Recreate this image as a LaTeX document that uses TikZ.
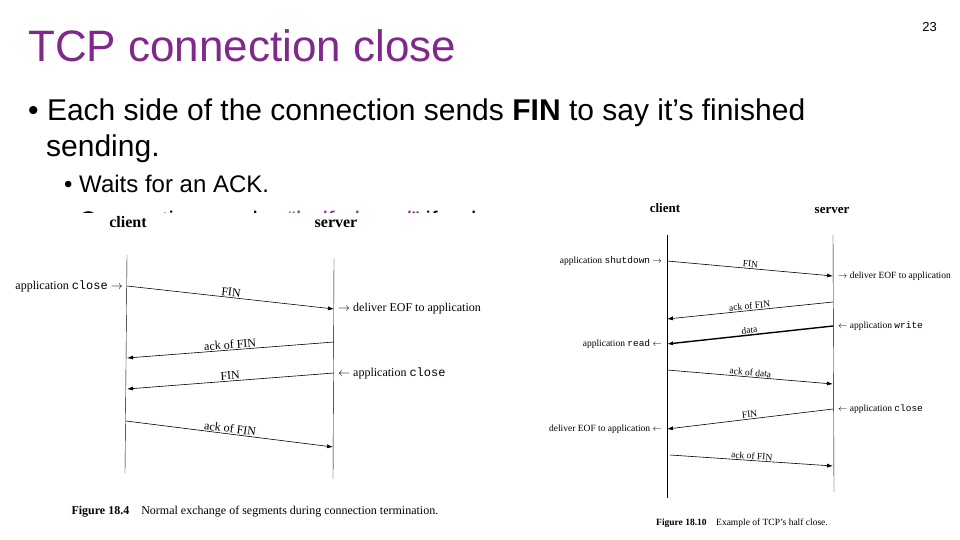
\documentclass[tikz,border=0pt]{standalone}
\usepackage{fontspec}
\setmainfont{Liberation Sans}
\newfontfamily\figfont{Liberation Serif}
\newfontfamily\figmono{Liberation Mono}
\usetikzlibrary{arrows.meta,positioning}
\definecolor{slidepurple}{RGB}{128,40,140}

\begin{document}
\begin{tikzpicture}[
    x=1pt, y=-1pt,
    msg/.style={-{Latex[length=6pt,width=4pt]}, semithick},
    bigmsg/.style={-{Latex[length=6pt,width=4pt]}, line width=1.4pt},
    life/.style={thin},
    lbl/.style={font=\figfont\fontsize{12}{13}\selectfont, inner sep=1pt},
    side/.style={font=\figfont\fontsize{12}{13}\selectfont, inner sep=1pt},
    head/.style={font=\figfont\bfseries\fontsize{16}{17}\selectfont},
    figcap/.style={font=\figfont\fontsize{12}{13}\selectfont},
    rlbl/.style={font=\figfont\fontsize{9.5}{10}\selectfont, inner sep=1pt},
    rhead/.style={font=\figfont\bfseries\fontsize{13}{14}\selectfont},
    rcapst/.style={font=\figfont\fontsize{9.5}{10}\selectfont}
]
    \useasboundingbox (0,0) rectangle (960,540);

    % Slide text
    \node[anchor=base west, font=\fontsize{44}{48}\selectfont, text=slidepurple, inner sep=0] (title) at (28,62) {TCP connection close};
    \node[anchor=base east, font=\fontsize{13}{15}\selectfont, inner sep=0] (page) at (937,32) {23};
    \node[anchor=base west, font=\fontsize{30}{34}\selectfont, inner sep=0] (b1) at (28,121) {\textbullet\ Each side of the connection sends \textbf{FIN} to say it’s finished};
    \node[anchor=base west, font=\fontsize{30}{34}\selectfont, inner sep=0] (b1b) at (46,157) {sending.};
    \node[anchor=base west, font=\fontsize{24}{28}\selectfont, inner sep=0] (b2) at (64,192) {\textbullet\ Waits for an ACK.};
    \node[anchor=base west, font=\fontsize{24}{28}\selectfont, inner sep=0] (b3) at (64,228) {\textbullet\ Connection can be \textcolor{slidepurple}{\textit{“half-closed”}} if only};

    % Figure backgrounds
    \fill[white] (0,213) rectangle (489,540);
    \fill[white] (545,199) rectangle (960,540);

    % Left figure: normal close
    \node[head] (lc) at (128,222) {client};
    \node[head] (ls) at (336,224) {server};
    \coordinate (lc0) at (127,255); \coordinate (lc1) at (125,473);
    \coordinate (ls0) at (334,258); \coordinate (ls1) at (333,479);
    \draw[life] (lc0) -- (lc1);
    \draw[life] (ls0) -- (ls1);

    \coordinate (la1) at (127,286); \coordinate (lb1) at (334,309);
    \coordinate (la2) at (334,342); \coordinate (lb2) at (127,358);
    \coordinate (la3) at (334,373); \coordinate (lb3) at (127,389);
    \coordinate (la4) at (126,421); \coordinate (lb4) at (333,447);
    \draw[msg] (la1) -- node[lbl, above, sloped] {FIN} (lb1);
    \draw[msg] (la2) -- node[lbl, above, sloped] {ack of FIN} (lb2);
    \draw[msg] (la3) -- node[lbl, above, sloped] {FIN} (lb3);
    \draw[msg] (la4) -- node[lbl, above, sloped] {ack of FIN} (lb4);

    \node[side, left=3pt of la1] (lcl) {application {\figmono close} $\rightarrow$};
    \node[side, right=3pt of lb1] (leof) {$\rightarrow$ deliver EOF to application};
    \node[side, right=3pt of la3] (lscl) {$\leftarrow$ application {\figmono close}};
    \node[figcap, anchor=west] (lcap) at (68,512) {\textbf{Figure 18.4}\quad Normal exchange of segments during connection termination.};

    % Right figure: half close
    \node[rhead] (rc) at (665,208) {client};
    \node[rhead] (rs) at (832,210) {server};
    \coordinate (rc0) at (667,235); \coordinate (rc1) at (667,498);
    \coordinate (rs0) at (833,235); \coordinate (rs1) at (834,492);
    \draw[life] (rc0) -- (rc1);
    \draw[life] (rs0) -- (rs1);

    \coordinate (ra1) at (667,261); \coordinate (rb1) at (833,276);
    \coordinate (ra2) at (833,302); \coordinate (rb2) at (667,319);
    \coordinate (ra3) at (833,326); \coordinate (rb3) at (667,344);
    \coordinate (ra4) at (667,370); \coordinate (rb4) at (833,384);
    \coordinate (ra5) at (833,409); \coordinate (rb5) at (667,429);
    \coordinate (ra6) at (670,455); \coordinate (rb6) at (833,466);
    \draw[msg] (ra1) -- node[rlbl, above, sloped] {FIN} (rb1);
    \draw[msg] (ra2) -- node[rlbl, above, sloped] {ack of FIN} (rb2);
    \draw[bigmsg] (ra3) -- node[rlbl, above, sloped] {data} (rb3);
    \draw[msg] (ra4) -- node[rlbl, above, sloped] {ack of data} (rb4);
    \draw[msg] (ra5) -- node[rlbl, above, sloped] {FIN} (rb5);
    \draw[msg] (ra6) -- node[rlbl, above, sloped] {ack of FIN} (rb6);

    \node[rlbl, left=4pt of ra1] (rsd) {application {\figmono shutdown} $\rightarrow$};
    \node[rlbl, right=4pt of rb1] (reof) {$\rightarrow$ deliver EOF to application};
    \node[rlbl, right=4pt of ra3] (rwr) {$\leftarrow$ application {\figmono write}};
    \node[rlbl, left=4pt of rb3] (rrd) {application {\figmono read} $\leftarrow$};
    \node[rlbl, right=4pt of ra5] (rcl) {$\leftarrow$ application {\figmono close}};
    \node[rlbl, left=4pt of rb5] (reof2) {deliver EOF to application $\leftarrow$};
    \node[rcapst] (rcap) at (742,523) {\textbf{Figure 18.10}\quad Example of TCP’s half close.};
\end{tikzpicture}
\end{document}
